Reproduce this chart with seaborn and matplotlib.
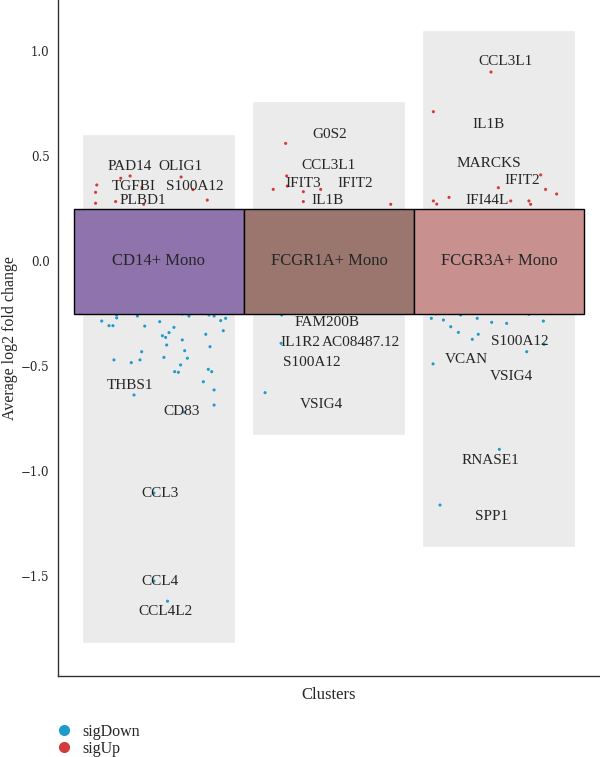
import numpy as np
import pandas as pd
import seaborn as sns
import matplotlib.pyplot as plt
from matplotlib.lines import Line2D

sns.set_style("white")
plt.rcParams['font.family'] = ['Liberation Serif', 'DejaVu Serif']

clusters = ["CD14+ Mono", "FCGR1A+ Mono", "FCGR3A+ Mono"]
tile_colors = ["#8e73ad", "#9a766f", "#c8918f"]

# significant genes per cluster: jitter offset inside the column and avg log2FC
cd14_up_jit = [-0.366, -0.373, -0.373, -0.255, -0.225, 0.284, -0.17, 0.13, -0.10, 0.20, -0.09]
cd14_up_fc = [0.362, 0.327, 0.275, 0.283, 0.394, 0.29, 0.405, 0.40, 0.35, 0.34, 0.27]
cd14_down_jit = [-0.337, -0.294, -0.271, -0.249, -0.249, -0.127, -0.098, -0.084, 0.004, 0.020,
                 0.039, 0.059, 0.088, 0.045, 0.137, 0.137, 0.176, 0.294, 0.324, 0.363,
                 0.392, 0.378, 0.275, 0.300, 0.151, 0.167, 0.029, -0.102, -0.112, -0.163,
                 -0.265, 0.127, 0.092, 0.114, 0.290, 0.310, 0.261, 0.324, -0.147, 0.324,
                 0.15, -0.03, -0.03, 0.05]
cd14_down_fc = [-0.286, -0.308, -0.308, -0.257, -0.271, -0.262, -0.249, -0.310, -0.289, -0.356,
                -0.364, -0.341, -0.316, -0.400, -0.376, -0.252, -0.262, -0.257, -0.262, -0.284,
                -0.273, -0.332, -0.349, -0.408, -0.427, -0.463, -0.459, -0.432, -0.471, -0.484,
                -0.471, -0.495, -0.527, -0.530, -0.516, -0.527, -0.575, -0.614, -0.638, -0.686,
                -0.72, -1.105, -1.524, -1.62]

fcgr1a_up_jit = [-0.255, -0.249, -0.328, -0.245, -0.151, -0.049, -0.151, 0.363]
fcgr1a_up_fc = [0.560, 0.405, 0.341, 0.357, 0.330, 0.341, 0.283, 0.270]
fcgr1a_down_jit = [-0.278, 0.035, -0.376, -0.282]
fcgr1a_down_fc = [-0.257, -0.249, -0.627, -0.392]

fcgr3a_up_jit = [-0.047, -0.386, -0.004, 0.245, 0.274, 0.339, -0.386, -0.366, -0.294, 0.069,
                 0.176, 0.186]
fcgr3a_up_fc = [0.900, 0.711, 0.349, 0.410, 0.341, 0.319, 0.286, 0.271, 0.303, 0.286,
                0.286, 0.270]
fcgr3a_down_jit = [-0.398, -0.372, -0.327, -0.284, -0.225, -0.128, -0.043, 0.045, 0.176, 0.261,
                   -0.239, -0.157, -0.122, 0.265, 0.163, -0.388, 0.002, -0.347]
fcgr3a_down_fc = [-0.273, -0.252, -0.281, -0.313, -0.257, -0.273, -0.292, -0.297, -0.254, -0.286,
                  -0.340, -0.373, -0.349, -0.397, -0.432, -0.490, -0.897, -1.162]

# top genes labelled per cluster (label offset, label height)
cd14_genes = ["PAD14", "OLIG1", "TGFBI", "S100A12", "PLBD1",
              "THBS1", "CD83", "CCL3", "CCL4", "CCL4L2"]
cd14_lab_x = [-0.171, 0.129, -0.147, 0.212, -0.094, -0.171, 0.135, 0.006, 0.006, 0.041]
cd14_lab_y = [0.452, 0.452, 0.357, 0.357, 0.290, -0.595, -0.719, -1.105, -1.524, -1.671]

fcgr1a_genes = ["G0S2", "CCL3L1", "IFIT3", "IFIT2", "IL1B",
                "FAM200B", "IL1R2", "AC08487.12", "S100A12", "VSIG4"]
fcgr1a_lab_x = [0.006, 0.0, -0.153, 0.153, -0.006, -0.012, -0.171, 0.188, -0.100, -0.047]
fcgr1a_lab_y = [0.600, 0.457, 0.371, 0.371, 0.286, -0.295, -0.386, -0.386, -0.481, -0.681]

fcgr3a_genes = ["CCL3L1", "IL1B", "MARCKS", "IFIT2", "IFI44L",
                "S100A12", "VCAN", "VSIG4", "RNASE1", "SPP1"]
fcgr3a_lab_x = [0.041, -0.059, -0.059, 0.135, -0.071, 0.124, -0.194, 0.076, -0.053, -0.041]
fcgr3a_lab_y = [0.948, 0.652, 0.462, 0.381, 0.290, -0.381, -0.471, -0.548, -0.952, -1.219]


def build_points():
    parts = []
    sets = [(cd14_up_jit, cd14_up_fc, cd14_down_jit, cd14_down_fc),
            (fcgr1a_up_jit, fcgr1a_up_fc, fcgr1a_down_jit, fcgr1a_down_fc),
            (fcgr3a_up_jit, fcgr3a_up_fc, fcgr3a_down_jit, fcgr3a_down_fc)]
    for i, (uj, uf, dj, df) in enumerate(sets):
        parts.append(pd.DataFrame({"x": np.array(uj) + i + 1, "log2fc": uf,
                                   "type": "sigUp", "cluster": clusters[i]}))
        parts.append(pd.DataFrame({"x": np.array(dj) + i + 1, "log2fc": df,
                                   "type": "sigDown", "cluster": clusters[i]}))
    return pd.concat(parts, ignore_index=True)


points = build_points()
palette = {"sigDown": "#1f9bcb", "sigUp": "#d33a3a"}

fig = plt.figure(figsize=(6.0, 7.57), dpi=100)
ax = fig.add_axes([58 / 600, 1 - 676 / 757, 1 - 58 / 600, 676 / 757])

# grey background columns from min-0.2 to max+0.2
rng = points.groupby("cluster")["log2fc"].agg(["min", "max"]).loc[clusters]
pos = np.arange(1, len(clusters) + 1)
ax.bar(pos, rng["max"] - rng["min"] + 0.4, bottom=rng["min"] - 0.2, width=0.9,
       color="#ebebeb", zorder=1)

sns.scatterplot(data=points, x="x", y="log2fc", hue="type", palette=palette,
                s=5, linewidth=0, legend=False, ax=ax, zorder=2)

ax.bar(pos, 0.5, bottom=-0.25, width=1.0, color=tile_colors, edgecolor="black",
       linewidth=1.0, zorder=3)
for p, name in zip(pos, clusters):
    ax.text(p, 0, name, ha="center", va="center", fontsize=12, zorder=4)

for i, (g, lx, ly) in enumerate([(cd14_genes, cd14_lab_x, cd14_lab_y),
                                 (fcgr1a_genes, fcgr1a_lab_x, fcgr1a_lab_y),
                                 (fcgr3a_genes, fcgr3a_lab_x, fcgr3a_lab_y)]):
    for name, x, y in zip(g, lx, ly):
        ax.text(i + 1 + x, y, name, ha="center", va="center", fontsize=11, zorder=5)

ax.set_xlim(1 - 101 / 170, 3 + 101 / 170)
ax.set_ylim(-415 / 210, 261 / 210)
ax.set_xticks([])
ax.set_yticks([-1.5, -1.0, -0.5, 0.0, 0.5, 1.0])
ax.set_yticklabels(["\u22121.5", "\u22121.0", "\u22120.5", "0.0", "0.5", "1.0"],
                   family=["DejaVu Serif"], fontsize=8.5)
ax.tick_params(axis="y", length=0, pad=6)
ax.set_xlabel("Clusters", fontsize=12, labelpad=8)
ax.set_ylabel("Average log2 fold change", fontsize=11.5)
ax.yaxis.set_label_coords(-40 / 542, 0.5)
for s in ["top", "right"]:
    ax.spines[s].set_visible(False)
for s in ["left", "bottom"]:
    ax.spines[s].set_color("#333333")
    ax.spines[s].set_linewidth(1.0)

handles = [Line2D([], [], marker="o", linestyle="", markersize=8,
                  markerfacecolor=palette[k], markeredgewidth=0, label=k)
           for k in ["sigDown", "sigUp"]]
fig.legend(handles=handles, loc="lower left", bbox_to_anchor=(0.078, -0.012),
           frameon=False, fontsize=11.5, handlelength=1.0, handletextpad=0.6,
           labelspacing=0.05, borderaxespad=0.2)

fig.savefig("out.png", dpi=100)
